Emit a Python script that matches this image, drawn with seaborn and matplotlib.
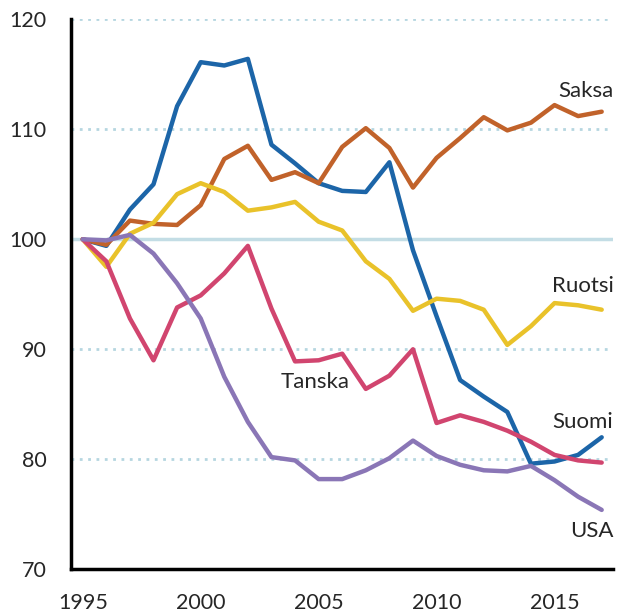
import matplotlib
matplotlib.use("Agg")
import matplotlib.pyplot as plt
import numpy as np
import pandas as pd
import seaborn as sns

years = list(range(1995, 2018))

suomi = [100, 99.4, 102.7, 105.0, 112.1, 116.1, 115.8, 116.4, 108.6, 106.9, 105.1,
         104.4, 104.3, 107.0, 99.0, 93.0, 87.2, 85.7, 84.3, 79.6, 79.8, 80.4, 82.0]
saksa = [100, 99.5, 101.7, 101.4, 101.3, 103.1, 107.3, 108.5, 105.4, 106.1, 105.1,
         108.4, 110.1, 108.3, 104.7, 107.4, 109.2, 111.1, 109.9, 110.6, 112.2, 111.2, 111.6]
ruotsi = [100, 97.5, 100.5, 101.5, 104.1, 105.1, 104.3, 102.6, 102.9, 103.4, 101.6,
          100.8, 98.0, 96.4, 93.5, 94.6, 94.4, 93.6, 90.4, 92.1, 94.2, 94.0, 93.6]
tanska = [100, 98.0, 92.8, 89.0, 93.8, 94.9, 96.9, 99.4, 93.7, 88.9, 89.0,
          89.6, 86.4, 87.6, 90.0, 83.3, 84.0, 83.4, 82.6, 81.6, 80.4, 79.9, 79.7]
usa = [100, 99.9, 100.4, 98.7, 96.0, 92.8, 87.5, 83.4, 80.2, 79.9, 78.2,
       78.2, 79.0, 80.1, 81.7, 80.3, 79.5, 79.0, 78.9, 79.4, 78.1, 76.6, 75.4]

countries = ["Suomi", "Saksa", "Ruotsi", "Tanska", "USA"]
colors = ["#1c65a8", "#c1622a", "#e9c22a", "#d1456f", "#8a76b6"]

df = pd.DataFrame({
    "year": years * 5,
    "value": suomi + saksa + ruotsi + tanska + usa,
    "country": [c for c in countries for _ in years],
})

sns.set_style("white")
plt.rcParams["font.family"] = ["Lato", "DejaVu Sans"]

fig = plt.figure(figsize=(6.17, 6.14), dpi=100)
ax = fig.add_axes([0.115, 0.0728, 0.8793, 0.8958])

# grid lines
for g in [80, 90, 110, 120]:
    ax.axhline(g, color="#b5d6e0", lw=2, ls=(0, (1, 2)), zorder=0)
ax.axhline(100, color="#c3dde5", lw=2.5, zorder=0)

sns.lineplot(data=df, x="year", y="value", hue="country", palette=colors,
             lw=3.2, legend=False, ax=ax, zorder=3)

ax.set_xlim(1994.5, 2017.5)
ax.set_ylim(70, 120)
ax.set_xlabel("")
ax.set_ylabel("")

ax.set_xticks([1995, 2000, 2005, 2010, 2015])
ax.set_xticks(np.arange(1994.5, 2018, 1), minor=True)
ax.tick_params(axis="x", which="major", length=0, pad=17, labelsize=15.5, colors="#262626")
ax.tick_params(axis="x", which="minor", length=5, width=2, direction="out")
ax.set_yticks([70, 80, 90, 100, 110, 120])
ax.tick_params(axis="y", length=6.5, width=2, direction="out", pad=11, labelsize=15.5,
               colors="#262626")
ax.tick_params(axis="both", which="both", color="black")

for s in ["top", "right"]:
    ax.spines[s].set_visible(False)
for s in ["left", "bottom"]:
    ax.spines[s].set_linewidth(2.5)
    ax.spines[s].set_color("black")

lab = dict(fontsize=16, color="#262626", va="baseline")
ax.text(2017.5, 112.9, "Saksa", ha="right", **lab)
ax.text(2017.5, 95.25, "Ruotsi", ha="right", **lab)
ax.text(2003.4, 86.45, "Tanska", ha="left", **lab)
ax.text(2017.5, 82.8, "Suomi", ha="right", **lab)
ax.text(2017.5, 72.95, "USA", ha="right", **lab)

fig.savefig("out.png", dpi=100)
